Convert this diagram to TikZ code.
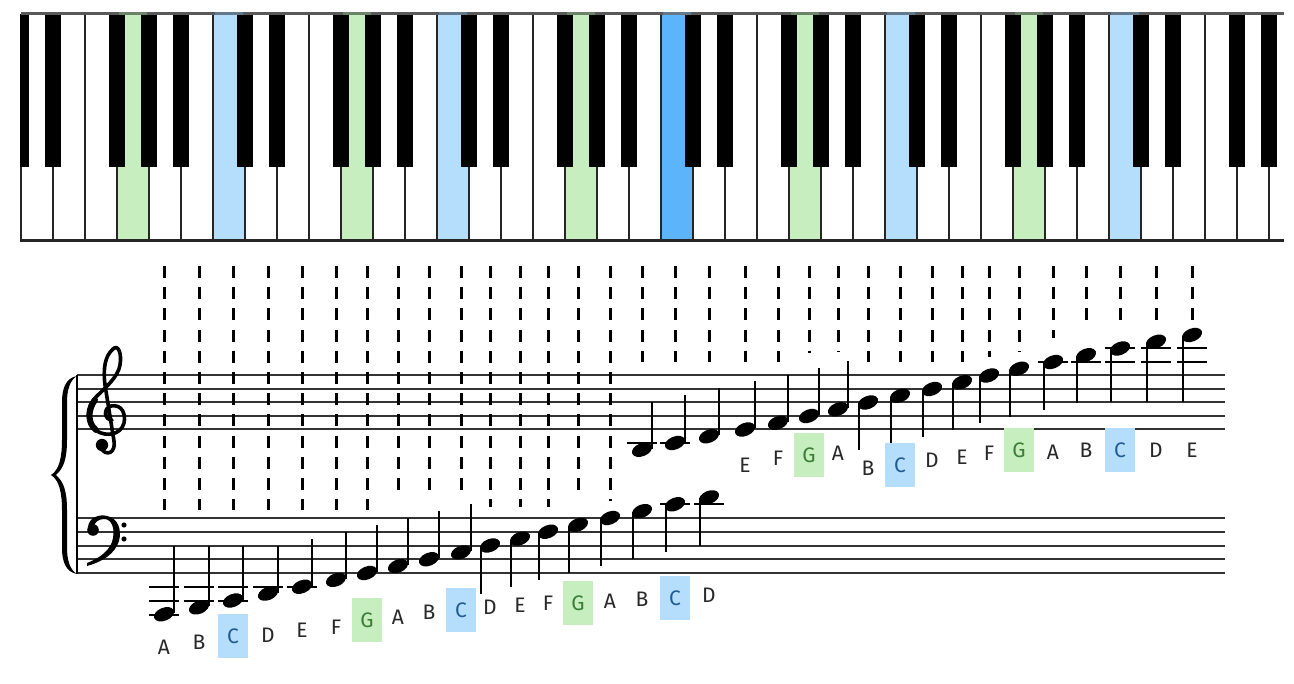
\documentclass[tikz,border=0pt]{standalone}
\usepackage{fontspec}
\newfontfamily\notefont{Fira Sans}
\usetikzlibrary{shapes.geometric, positioning, calc}
\definecolor{gkey}{RGB}{198,238,190}
\definecolor{ckey}{RGB}{180,222,251}
\definecolor{midc}{RGB}{92,180,250}
\definecolor{gtext}{RGB}{60,125,55}
\definecolor{ctext}{RGB}{35,90,145}
\definecolor{ntext}{RGB}{40,40,40}
\tikzset{
  keyline/.style={draw=black!85, line width=2.2pt},
  blackkey/.style={fill=black},
  notehead/.style={ellipse, fill=black, inner sep=0pt, minimum width=21pt,
    minimum height=13pt, rotate=22},
  stemline/.style={line width=2pt},
  ledger/.style={line width=2pt},
  staffline/.style={draw=black!80, line width=2pt},
  clefline/.style={line width=3.6pt, line cap=round, line join=round},
  guide/.style={line width=3pt, dash pattern=on 12pt off 9.2pt},
  notename/.style={font=\notefont\fontsize{21}{21}\selectfont, text=ntext, inner sep=0pt},
  gname/.style={notename, fill=gkey, text=gtext, minimum width=30pt, minimum height=44pt},
  cname/.style={notename, fill=ckey, text=ctext, minimum width=30pt, minimum height=44pt}
}
\begin{document}
\begin{tikzpicture}[x=1pt, y=-1pt]
\useasboundingbox (0,0) rectangle (1294,684);

% Keyboard
\begin{scope}
  \clip (20,11) rectangle (1284,244);
  \foreach \i in {3,10,17,24,31} \fill[gkey] (21+32*\i,14) rectangle ++(32,228);
  \foreach \i in {6,13,27,34} \fill[ckey] (21+32*\i,14) rectangle ++(32,228);
  \fill[midc] (661,14) rectangle ++(32,228);
  \foreach \i in {0,...,39} \draw[keyline] (21+32*\i,14) -- ++(0,228);
  \foreach \i in {0,1,3,4,5,7,8,10,11,12,14,15,17,18,19,21,22,24,25,26,28,29,31,32,33,35,36,38,39}
    \fill[blackkey] (13+32*\i,14) rectangle ++(16,153);
  \draw[draw=black!65, line width=3pt] (21,14) -- (1284,14);
  \foreach \i in {3,10,17,24,31} \fill[gkey!55!black] (23+32*\i,12.5) rectangle ++(28,3);
  \foreach \i in {6,13,20,27,34} \fill[ckey!55!black] (23+32*\i,12.5) rectangle ++(28,3);
  \draw[draw=black!85, line width=3pt] (21,241) -- (1284,241);
\end{scope}

% Staves
\foreach \k in {0,...,4} {
  \draw[staffline] (77,375.5+13.5*\k) -- (1225,375.5+13.5*\k);
  \draw[staffline] (77,518+13.75*\k) -- (1225,518+13.75*\k);
}
\draw[line width=2pt] (77,375) -- (77,574);
\fill (77,376) .. controls (66,378) and (62,388) .. (62,402)
  -- (62,440) .. controls (62,458) and (59,470) .. (51,475)
  .. controls (59,480) and (62,492) .. (62,510)
  -- (62,548) .. controls (62,562) and (66,572) .. (77,574)
  .. controls (70,570) and (67,560) .. (67,548)
  -- (67,510) .. controls (67,492) and (64,482) .. (56,475)
  .. controls (64,468) and (67,458) .. (67,440)
  -- (67,402) .. controls (67,390) and (70,380) .. (77,376) -- cycle;

% Treble clef
\draw[clefline] (112,420) .. controls (104,420) and (103,408) .. (111,406)
  .. controls (122,404) and (126,414) .. (124,423)
  .. controls (121,435) and (106,437) .. (97,431)
  .. controls (85,423) and (86,407) .. (96,397)
  .. controls (106,387) and (118,377) .. (120,365)
  .. controls (122,353) and (118,344) .. (113,349)
  .. controls (105,356) and (103,368) .. (105,385)
  -- (114,441) .. controls (116,453) and (106,457) .. (101,448);
\draw[line width=6pt, line cap=round] (96,430) .. controls (87,423) and (88,409) .. (95,400);
\fill (102,445) circle (6.2);
% Bass clef
\fill (88,527) .. controls (89,517) and (100,514) .. (107,516)
  .. controls (118,518) and (122,530) .. (119,541)
  .. controls (115,554) and (102,562) .. (87,566)
  -- (87,563) .. controls (100,558) and (111,550) .. (113,538)
  .. controls (115,527) and (111,519) .. (104,519)
  .. controls (98,519) and (94,523) .. (94,527) -- cycle;
\fill (93,530) circle (5.8);
\fill (124,525) circle (2.6);
\fill (124,539) circle (2.6);

% Bass notes
\foreach \p/\x/\t/\s/\ly/\gy in {0/164/A/notename/647/510, 1/199/B/notename/642/510,
  2/233/C/cname/636/510, 3/268/D/notename/635/510, 4/302/E/notename/630/510,
  5/336/F/notename/627/510, 6/367/G/gname/620/510, 7/398/A/notename/617/491,
  8/429/B/notename/612/491, 9/461/C/cname/610/491, 10/490/D/notename/607/507,
  11/520/E/notename/605/507, 12/548/F/notename/603/507, 13/578/G/gname/603/491,
  14/610/A/notename/601/501, 15/642/B/notename/599/0, 16/675/C/cname/598/0,
  17/709/D/notename/595/0} {
  \pgfmathsetmacro\yy{573-6.875*(\p-6)}
  \node[notehead] (b\p) at (\x,\yy) {};
  \ifnum\p<10
    \draw[stemline] (\x+9.5,\yy-1) -- (\x+9.5,{min(\yy-48,545.5)});
  \else
    \draw[stemline] (\x-9.5,\yy+1) -- (\x-9.5,{max(\yy+48,545.5)});
  \fi
  \ifnum\p<5 \draw[ledger] (\x-15,587.4) -- (\x+15,587.4); \fi
  \ifnum\p<3 \draw[ledger] (\x-15,601.2) -- (\x+15,601.2); \fi
  \ifnum\p<1 \draw[ledger] (\x-15,615) -- (\x+15,615); \fi
  \ifnum\p>15 \draw[ledger] (\x-15,504.3) -- (\x+15,504.3); \fi
  \node[\s] (bl\p) at (\x,\ly) {\t};
  \ifnum\gy>0
    \coordinate (bt\p) at (\x,266);
    \coordinate (bg\p) at (\x,\gy);
    \draw[guide] (bt\p) -- (bg\p);
  \fi
}

% Treble notes
\foreach \p/\x/\t/\s/\ly/\gy in {15/642/-/notename/0/362, 16/675/-/notename/0/362,
  17/709/-/notename/0/362, 18/745/E/notename/465/362, 19/778/F/notename/458/362,
  20/809/G/gname/455/353, 21/838/A/notename/453/352, 22/868/B/notename/468/362,
  23/900/C/cname/465/362, 24/932/D/notename/460/362, 25/962/E/notename/457/362,
  26/989/F/notename/453/357, 27/1019/G/gname/450/352, 28/1053/A/notename/452/338,
  29/1086/B/notename/450/321, 30/1120/C/cname/450/321, 31/1156/D/notename/450/320,
  32/1192/E/notename/450/320} {
  \pgfmathsetmacro\yy{429.5-6.75*(\p-18)}
  \node[notehead] (t\p) at (\x,\yy) {};
  \ifnum\p<22
    \draw[stemline] (\x+9.5,\yy-1) -- (\x+9.5,{min(\yy-48,402.5)});
  \else
    \draw[stemline] (\x-9.5,\yy+1) -- (\x-9.5,{max(\yy+48,402.5)});
  \fi
  \ifnum\p<17 \draw[ledger] (\x-15,443) -- (\x+15,443); \fi
  \ifnum\p>27 \draw[ledger] (\x-15,362) -- (\x+15,362); \fi
  \ifnum\p>29 \draw[ledger] (\x-15,348.5) -- (\x+15,348.5); \fi
  \ifnum\ly>0 \node[\s] (tl\p) at (\x,\ly) {\t}; \fi
  \coordinate (tt\p) at (\x,266);
  \coordinate (tg\p) at (\x,\gy);
  \draw[guide] (tt\p) -- (tg\p);
}
\end{tikzpicture}
\end{document}
